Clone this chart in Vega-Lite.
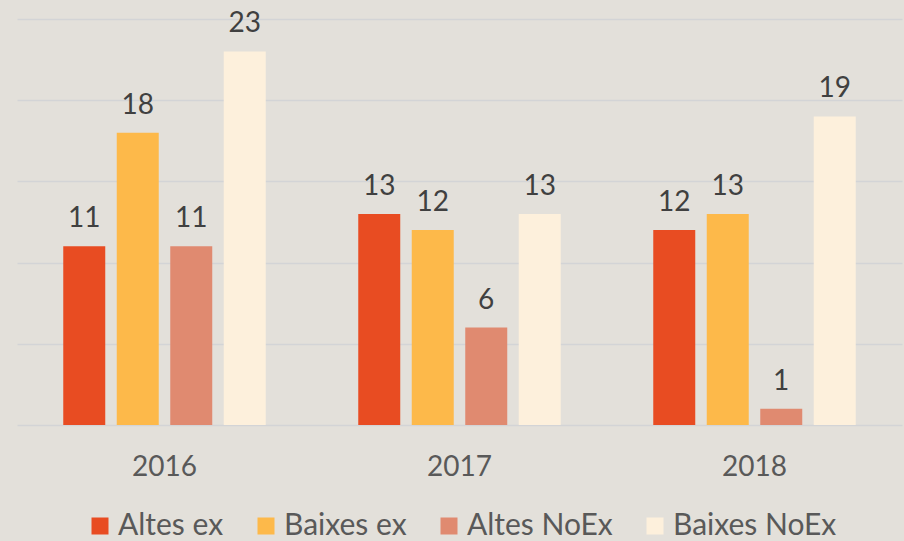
{
  "$schema": "https://vega.github.io/schema/vega-lite/v6.json",
  "width": 885,
  "height": 406,
  "autosize": {"type": "none"},
  "padding": {"left": 17, "top": 19, "right": 2, "bottom": 116},
  "background": "#e3e0da",
  "config": {"view": {"stroke": null}, "font": "Lato"},
  "data": {
    "values": [
      {"year": "2016", "series": "Altes ex", "value": 11},
      {"year": "2016", "series": "Baixes ex", "value": 18},
      {"year": "2016", "series": "Altes NoEx", "value": 11},
      {"year": "2016", "series": "Baixes NoEx", "value": 23},
      {"year": "2017", "series": "Altes ex", "value": 13},
      {"year": "2017", "series": "Baixes ex", "value": 12},
      {"year": "2017", "series": "Altes NoEx", "value": 6},
      {"year": "2017", "series": "Baixes NoEx", "value": 13},
      {"year": "2018", "series": "Altes ex", "value": 12},
      {"year": "2018", "series": "Baixes ex", "value": 13},
      {"year": "2018", "series": "Altes NoEx", "value": 1},
      {"year": "2018", "series": "Baixes NoEx", "value": 19}
    ]
  },
  "encoding": {
    "x": {
      "field": "year",
      "type": "nominal",
      "scale": {"paddingInner": 0.3136, "paddingOuter": 0.1568},
      "axis": {
        "title": null,
        "labelAngle": 0,
        "ticks": false,
        "domain": false,
        "labelFontSize": 28,
        "labelColor": "#595959",
        "labelPadding": 28
      }
    },
    "xOffset": {
      "field": "series",
      "type": "nominal",
      "sort": ["Altes ex", "Baixes ex", "Altes NoEx", "Baixes NoEx"],
      "scale": {"paddingInner": 0.215, "paddingOuter": 0}
    },
    "y": {
      "field": "value",
      "type": "quantitative",
      "scale": {"domain": [0, 25], "nice": false},
      "axis": {
        "title": null,
        "labels": false,
        "ticks": false,
        "domain": false,
        "values": [0, 5, 10, 15, 20, 25],
        "gridColor": "#d3d4d6",
        "gridWidth": 1.5
      }
    }
  },
  "layer": [
    {
      "mark": {"type": "bar"},
      "encoding": {
        "color": {
          "field": "series",
          "type": "nominal",
          "sort": ["Altes ex", "Baixes ex", "Altes NoEx", "Baixes NoEx"],
          "scale": {
            "domain": ["Altes ex", "Baixes ex", "Altes NoEx", "Baixes NoEx"],
            "range": ["#e84c22", "#fdb94a", "#e08a70", "#fdf0dc"]
          },
          "legend": {
            "title": null,
            "orient": "none",
            "legendX": 68,
            "legendY": 492,
            "direction": "horizontal",
            "symbolType": "square",
            "symbolSize": 289,
            "symbolStrokeWidth": 0,
            "labelFontSize": 30,
            "labelLimit": 400,
            "labelColor": "#595959",
            "labelOffset": 3,
            "columnPadding": 27
          }
        }
      }
    },
    {
      "mark": {"type": "text", "dy": -19, "baseline": "alphabetic", "fontSize": 28, "color": "#404040"},
      "encoding": {"text": {"field": "value", "type": "quantitative"}}
    }
  ]
}
